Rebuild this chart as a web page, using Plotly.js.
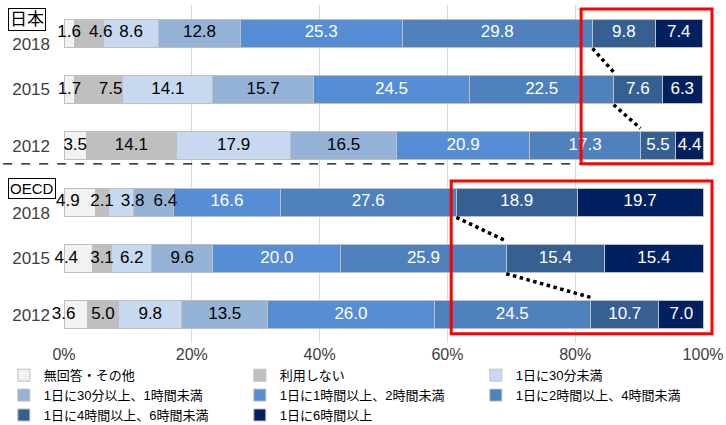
<!DOCTYPE html>
<html>
<head>
<meta charset="utf-8">
<script src="https://cdn.plot.ly/plotly-3.0.1.min.js"></script>
<style>html,body{margin:0;padding:0;background:#fff;}#chart{width:726px;height:425px;}</style>
</head>
<body>
<div id="chart"></div>
<script>
// categories (rows)
var rowKeys = ["日本2018","日本2015","日本2012","OECD2018","OECD2015","OECD2012"];
var rowLabels = ["\u00a0<br>2018","2015","2012","\u00a0<br>2018","2015","2012"];
var groupLabels = ["日本","OECD"];

// series names
var seriesNames = ["無回答・その他","利用しない","1日に30分未満","1日に30分以上、1時間未満","1日に1時間以上、2時間未満","1日に2時間以上、4時間未満","1日に4時間以上、6時間未満","1日に6時間以上"];

// series values (%), rows in rowKeys order
var noAnswer   = [1.6, 1.7, 3.5, 4.9, 4.4, 3.6];
var notUse     = [4.6, 7.5, 14.1, 2.1, 3.1, 5.0];
var lt30min    = [8.6, 14.1, 17.9, 3.8, 6.2, 9.8];
var m30to1h    = [12.8, 15.7, 16.5, 6.4, 9.6, 13.5];
var h1to2      = [25.3, 24.5, 20.9, 16.6, 20.0, 26.0];
var h2to4      = [29.8, 22.5, 17.3, 27.6, 25.9, 24.5];
var h4to6      = [9.8, 7.6, 5.5, 18.9, 15.4, 10.7];
var h6plus     = [7.4, 6.3, 4.4, 19.7, 15.4, 7.0];

var xTickVals = [0, 20, 40, 60, 80, 100];
var xTickText = ["0%", "20%", "40%", "60%", "80%", "100%"];

var seriesValues = [noAnswer, notUse, lt30min, m30to1h, h1to2, h2to4, h4to6, h6plus];
var colors = ["#f2f2f2","#bfbfbf","#c6d9f1","#95b3d7","#558ed5","#4f81bd","#376092","#002060"];
var textColors = ["#000","#000","#000","#000","#fff","#fff","#fff","#fff"];

// label alignment (style only): nudges for crowded narrow segments
var C = "middle center", L = "middle left", R = "middle right";
var labelAlign = [
  [C, C, C, L, L, L],
  [R, R, C, C, C, C],
  [C, C, C, R, C, C],
  [C, C, C, R, C, C],
  [C, C, C, C, C, C],
  [C, C, C, C, C, C],
  [C, C, C, C, C, C],
  [C, C, C, C, C, C]
];

var font = "Liberation Sans, Arial, Noto Sans CJK JP, sans-serif";

var traces = seriesValues.map(function(vals, k){
  return {
    type: "bar",
    orientation: "h",
    name: seriesNames[k],
    y: rowKeys,
    x: vals,
    marker: {color: colors[k], line: {color: "#bfbfbf", width: 1}},
    hoverinfo: "none"
  };
});

// value labels on top of all bars, placed at segment centres computed from the data
var cum = rowKeys.map(function(){ return 0; });
seriesValues.forEach(function(vals, k){
  var xs = vals.map(function(v, i){ var c = cum[i] + v / 2; cum[i] += v; return c; });
  traces.push({
    type: "scatter", mode: "text", showlegend: false, hoverinfo: "none",
    x: xs, y: rowKeys,
    text: vals.map(function(v){ return v.toFixed(1); }),
    textposition: labelAlign[k], cliponaxis: false,
    marker: {size: 1},
    textfont: {family: font, size: 17, color: textColors[k]}
  });
});

// connector lines computed from data (cumulative share before "4時間以上")
function cumBefore(i){
  var s = 0;
  for (var k = 0; k < 6; k++) s += seriesValues[k][i];
  return s;
}
var shapes = [];
[0, 3].forEach(function(g){
  for (var r = 0; r < 2; r++){
    var i = g + r;
    shapes.push({type: "line", xref: "x", yref: "y",
      x0: cumBefore(i), y0: i + 0.27, x1: cumBefore(i + 1), y1: i + 1 - 0.31,
      line: {color: "#000", width: 3.5, dash: "dot"}});
  }
});
// dashed separator
shapes.push({type: "line", xref: "paper", yref: "paper", x0: -0.095, x1: 1.0, y0: 0.530, y1: 0.530,
  line: {color: "#000", width: 1.3, dash: "dash"}});
// red highlight boxes
shapes.push({type: "rect", xref: "paper", yref: "paper", x0: 0.808, x1: 1.0125, y0: 0.530, y1: 0.988,
  line: {color: "#ff0000", width: 3}});
shapes.push({type: "rect", xref: "paper", yref: "paper", x0: 0.605, x1: 1.0125, y0: 0.027, y1: 0.479,
  line: {color: "#ff0000", width: 3}});

var annotations = [
  {text: groupLabels[0], xref: "paper", yref: "paper", x: -0.0875, y: 0.956, xanchor: "left", yanchor: "middle",
   showarrow: false, font: {family: font, size: 17, color: "#000"}, bordercolor: "#000", borderwidth: 1, borderpad: 1},
  {text: groupLabels[1], xref: "paper", yref: "paper", x: -0.0875, y: 0.456, xanchor: "left", yanchor: "middle",
   showarrow: false, font: {family: font, size: 15, color: "#000"}, bordercolor: "#000", borderwidth: 1, borderpad: 1}
];

var layout = {
  width: 726, height: 425,
  margin: {l: 64, r: 22, t: 5, b: 82, autoexpand: false},
  paper_bgcolor: "#fff", plot_bgcolor: "#fff",
  barmode: "stack",
  bargap: 0.5,
  font: {family: font, color: "#404040"},
  showlegend: true,
  xaxis: {
    range: [0, 100.15], tickvals: xTickVals, ticktext: xTickText,
    showgrid: true, gridcolor: "#d9d9d9", gridwidth: 1, zeroline: false, showline: false,
    tickfont: {family: font, size: 16, color: "#404040"}, fixedrange: true
  },
  yaxis: {
    type: "category", categoryorder: "array", categoryarray: rowKeys,
    range: [5.5, -0.5], tickvals: rowKeys, ticktext: rowLabels,
    showgrid: false, zeroline: false, showline: false, ticks: "",
    ticklabelstandoff: 13,
    tickfont: {family: font, size: 17, color: "#404040"}, fixedrange: true
  },
  legend: {
    orientation: "h", xref: "paper", yref: "paper",
    x: -0.094, xanchor: "left", y: -0.051, yanchor: "top",
    entrywidth: 191, entrywidthmode: "pixels", traceorder: "normal", bgcolor: "rgba(0,0,0,0)",
    font: {family: font, size: 13, color: "#000"}, itemwidth: 30, tracegroupgap: 0
  },
  shapes: shapes,
  annotations: annotations
};

Plotly.newPlot("chart", traces, layout, {displayModeBar: false, staticPlot: true});
</script>
</body>
</html>
